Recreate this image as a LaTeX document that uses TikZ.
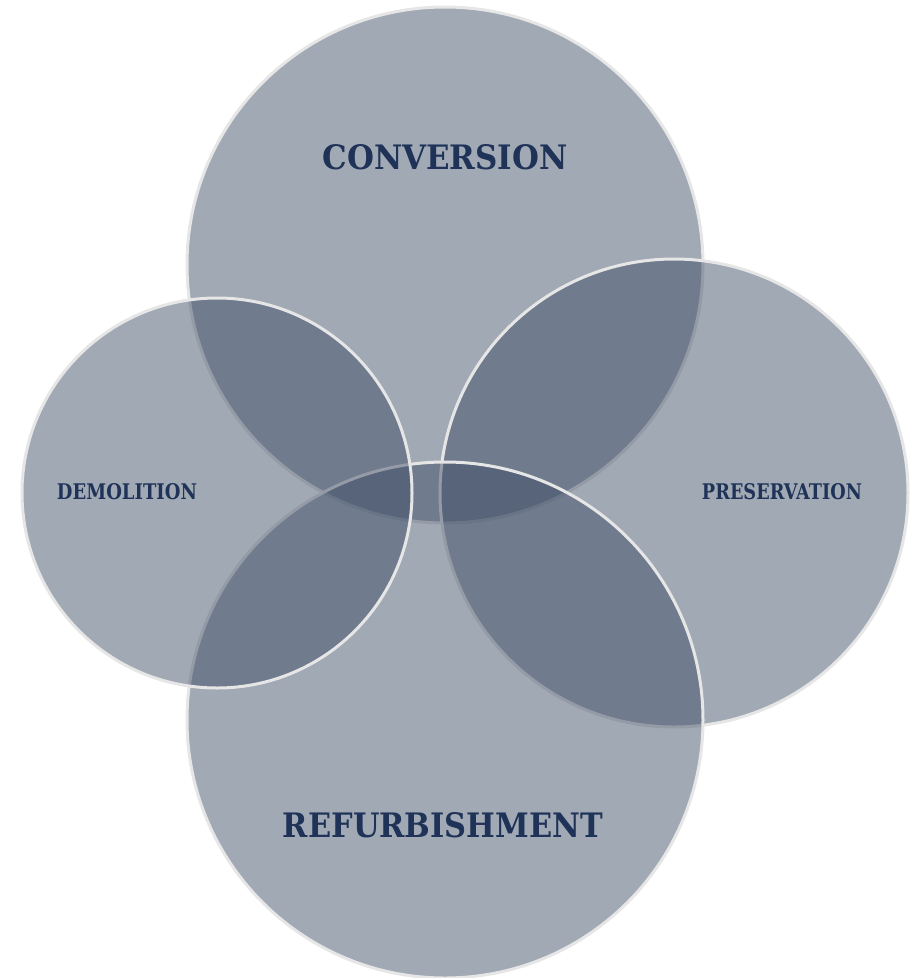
\documentclass[tikz,border=0pt]{standalone}
\usepackage{fontspec}
\setmainfont{DejaVu Serif}
\usepackage{graphicx}
\definecolor{setfill}{HTML}{3B4B63}
\definecolor{setedge}{HTML}{E6E6E6}
\definecolor{labelink}{HTML}{1F3358}
\tikzset{
  setdisc/.style={fill=setfill, fill opacity=0.48, draw=setedge, line width=3pt},
  setlabel/.style={text=labelink, inner sep=0pt, font=\bfseries}
}
\begin{document}
\begin{tikzpicture}[x=1pt, y=-1pt]
  \useasboundingbox (0,0) rectangle (915,978);
  % four overlapping sets, later ones on top
  \path[setdisc] (445,265) circle (258);
  \path[setdisc] (674,493) circle (234);
  \path[setdisc] (445,720) circle (258);
  \path[setdisc] (217,493) circle (195);
  % labels
  \node[setlabel] (conv) at (445,157) {\resizebox{245pt}{25pt}{CONVERSION}};
  \node[setlabel] (refu) at (443,825) {\resizebox{320pt}{25pt}{REFURBISHMENT}};
  \node[setlabel] (demo) at (127,492) {\resizebox{140pt}{16pt}{DEMOLITION}};
  \node[setlabel] (pres) at (782,492) {\resizebox{160pt}{16pt}{PRESERVATION}};
\end{tikzpicture}
\end{document}
